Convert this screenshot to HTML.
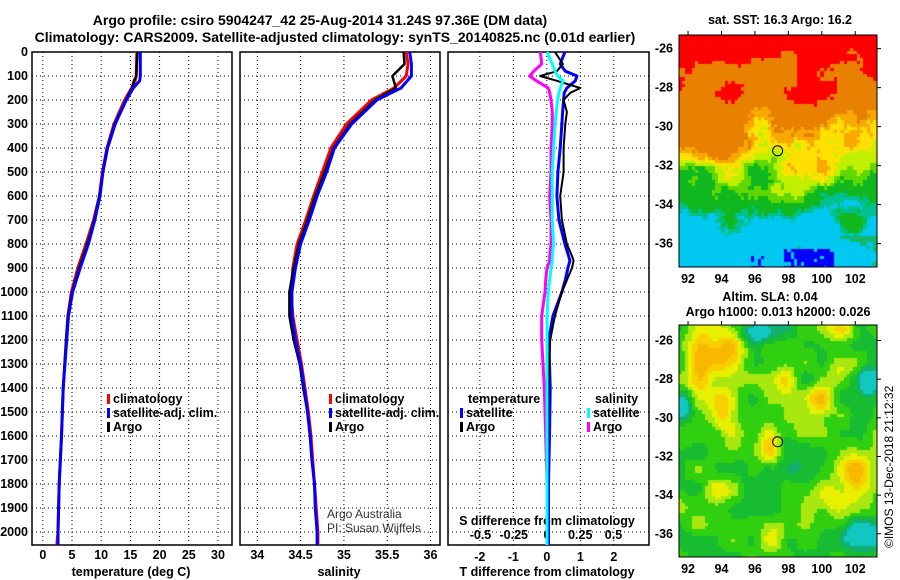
<!DOCTYPE html>
<html><head><meta charset="utf-8"><style>
body{margin:0;background:#fff;width:900px;height:580px;overflow:hidden;position:relative;font-family:"Liberation Sans",sans-serif}
svg{position:absolute;left:0;top:0}
canvas{position:absolute}
text{font-family:"Liberation Sans",sans-serif;font-weight:bold;font-size:12.5px;fill:#000}
</style></head><body>
<canvas id="sst" width="198" height="232" style="left:679px;top:35px"></canvas>
<canvas id="sla" width="198" height="232" style="left:679px;top:325px"></canvas>
<svg id="s" width="900" height="580" xmlns="http://www.w3.org/2000/svg">
<text x="320" y="25" text-anchor="middle" style="font-size:14px">Argo profile: csiro 5904247_42 25-Aug-2014 31.24S 97.36E (DM data)</text>
<text x="335" y="42" text-anchor="middle" style="font-size:14px">Climatology: CARS2009. Satellite-adjusted climatology: synTS_20140825.nc (0.01d earlier)</text>
<text x="780" y="24" text-anchor="middle">sat. SST: 16.3 Argo: 16.2</text>
<text x="770" y="301" text-anchor="middle">Altim. SLA: 0.04</text>
<text x="778" y="316" text-anchor="middle">Argo h1000: 0.013 h2000: 0.026</text>
<text transform="translate(893,548) rotate(-90)" style="font-weight:normal;font-size:12px">©IMOS 13-Dec-2018 21:12:32</text>
<text x="327" y="518" style="font-weight:normal;font-size:12px;fill:#333">Argo Australia</text>
<text x="327" y="532" style="font-weight:normal;font-size:12px;fill:#333">PI: Susan Wijffels</text>
<g id="g"></g>
</svg>
<script>
// ---- data ----
const tDepth=[0,100,120,150,200,300,400,500,600,700,800,900,1000,1100,1200,1400,1600,1800,2000,2054];
const tClim=[16.1,16.0,15.8,15.2,14.0,12.2,11.0,10.2,9.7,8.7,7.4,6.0,4.9,4.3,4.0,3.5,3.2,2.8,2.6,2.4];
const tSat=[16.7,16.7,16.6,15.5,14.3,12.4,11.1,10.3,9.8,8.9,7.8,6.4,5.1,4.4,4.1,3.5,3.2,2.8,2.6,2.6];
const tArgo=[16.2,16.0,15.6,15.3,14.2,12.3,11.0,10.3,9.7,8.8,7.6,6.2,5.0,4.3,4.0,3.5,3.2,2.8,2.6,2.6];
const sDepth=[0,50,100,150,200,300,400,500,600,700,800,900,1000,1100,1200,1300,1400,1500,1600,1700,1800,1900,2000,2054];
const sClim=[35.72,35.74,35.72,35.58,35.32,35.03,34.85,34.75,34.65,34.56,34.46,34.41,34.39,34.41,34.46,34.51,34.55,34.59,34.62,34.64,34.66,34.68,34.70,34.70];
const sSat=[35.76,35.78,35.78,35.66,35.38,35.09,34.89,34.80,34.69,34.60,34.50,34.44,34.40,34.40,34.44,34.50,34.54,34.58,34.61,34.63,34.66,34.67,34.69,34.69];
const sArgo=[35.69,35.70,35.56,35.60,35.36,35.07,34.88,34.78,34.67,34.58,34.48,34.42,34.37,34.37,34.42,34.49,34.53,34.58,34.61,34.63,34.66,34.67,34.69,34.69];
const dDepth=[0,50,80,100,120,150,170,200,250,300,400,500,600,700,800,850,870,900,950,1000,1100,1200,1400,1600,1800,2054];
const dTsat=[0.54,0.40,0.55,0.90,0.85,0.60,0.52,0.50,0.47,0.45,0.40,0.33,0.30,0.36,0.54,0.65,0.69,0.63,0.55,0.45,0.18,0.06,0.10,0.08,0.05,0.05];
const dTargo=[0.24,0.48,0.30,-0.20,0.30,1.00,0.70,0.50,0.60,0.55,0.50,0.50,0.40,0.45,0.60,0.75,0.80,0.75,0.60,0.45,0.24,0.10,0.05,0.02,0.0,0.0];
const dSsat=[0.00,0.04,0.06,0.08,0.12,0.10,0.09,0.08,0.07,0.06,0.05,0.04,0.04,0.04,0.05,0.04,0.04,0.03,0.02,0.01,0.0,0.0,0.0,0.0,0.0,0.0];
const dSargo=[-0.05,-0.04,-0.10,-0.13,-0.08,0.01,0.02,0.03,0.04,0.04,0.03,0.03,0.02,0.03,0.03,0.02,0.02,0.00,-0.01,-0.015,-0.04,-0.04,-0.02,-0.01,0.0,0.0];
const depthTicks=[0,100,200,300,400,500,600,700,800,900,1000,1100,1200,1300,1400,1500,1600,1700,1800,1900,2000];
const tTicks=[0,5,10,15,20,25,30];
const sTicks=[34,34.5,35,35.5,36];
const dTTicks=[-2,-1,0,1,2];
const dSTicks=[-0.5,-0.25,0,0.25,0.5];
const latTicks=[-26,-28,-30,-32,-34,-36];
const lonTicks=[92,94,96,98,100,102];
// ---- scales ----
const Y=d=>52+d*0.24;
const panels=[{x0:32,x1:232,v0:-1.85,v1:32.4},{x0:240,x1:440,v0:33.80,v1:36.11},{x0:448,x1:649,v0:-2.95,v1:3.05}];
const X=(p,v)=>p.x0+(v-p.v0)/(p.v1-p.v0)*(p.x1-p.x0);
const XS=v=>547+v*133;
const g=document.getElementById('g');
const NS='http://www.w3.org/2000/svg';
function mk(tag,at,txt){const e=document.createElementNS(NS,tag);for(const k in at)e.setAttribute(k,at[k]);if(txt!==undefined)e.textContent=txt;g.appendChild(e);return e;}
panels.forEach((p,i)=>{
  const ticks=i==0?tTicks:i==1?sTicks:dTTicks;
  depthTicks.forEach(d=>{const l=mk('line',{x1:p.x0,x2:p.x1,y1:Y(d),y2:Y(d),stroke:'#000','stroke-dasharray':'1 3'});
    
    });
  ticks.forEach(v=>{const l=mk('line',{x1:X(p,v),x2:X(p,v),y1:52,y2:545,stroke:'#000','stroke-dasharray':'1 3'});
    
    
    const t=mk('text',{x:X(p,v),y:i==2?561:559,'text-anchor':'middle'},String(v));
    
    });
  const r=mk('rect',{x:p.x0,y:52,width:p.x1-p.x0,height:493,fill:'none',stroke:'#000','stroke-width':1.5});
  
  
});
depthTicks.forEach(d=>{const t=mk('text',{x:28,y:Y(d)+4,'text-anchor':'end'},d);
  
  });
dSTicks.forEach(v=>{const t=mk('text',{x:XS(v),y:539,'text-anchor':'middle'},String(v));
  
  });
[['temperature (deg C)',131,'x-axis-title-temperature'],['salinity',339,'x-axis-title-salinity'],['T difference from climatology',547,'x-axis-title-tdiff']].forEach(a=>{
  const t=mk('text',{x:a[1],y:576,'text-anchor':'middle'},a[0]);
  
  });
const st=mk('text',{x:547,y:525,'text-anchor':'middle'},'S difference from climatology');


function line(depths,vals,fx,col,w,name){
  const pts=depths.map((d,k)=>fx(vals[k]).toFixed(1)+','+Y(d).toFixed(1)).join(' ');
  const l=mk('polyline',{points:pts,fill:'none',stroke:col,'stroke-width':w,'stroke-linejoin':'round'});
  
  
}
line(tDepth,tClim,v=>X(panels[0],v),'#f00',3,'temperature-climatology-line');
line(tDepth,tArgo,v=>X(panels[0],v),'#000',2.5,'temperature-argo-line');
line(tDepth,tSat,v=>X(panels[0],v),'#00f',3,'temperature-satellite-line');
line(sDepth,sClim,v=>X(panels[1],v),'#f00',3,'salinity-climatology-line');
line(sDepth,sArgo,v=>X(panels[1],v),'#000',2.5,'salinity-argo-line');
line(sDepth,sSat,v=>X(panels[1],v),'#00f',3,'salinity-satellite-line');
line(dDepth,dSargo,XS,'#f0f',3,'s-diff-argo-line');
line(dDepth,dTsat,v=>X(panels[2],v),'#00f',3,'t-diff-satellite-line');
line(dDepth,dTargo,v=>X(panels[2],v),'#000',2,'t-diff-argo-line');
line(dDepth,dSsat,XS,'#0ff',3,'s-diff-satellite-line');
function leg(x,y,col,label,name){
  const r=mk('rect',{x:x,y:y-9,width:3,height:10,fill:col});
  
  
  const t=mk('text',{x:x+6,y:y},label);
  
  
}
[[107,'#f00','climatology'],[107,'#00f','satellite-adj. clim.'],[107,'#000','Argo']].forEach((a,k)=>leg(a[0],403+k*14,a[1],a[2],'legend-temp-'+k));
[[329,'#f00','climatology'],[329,'#00f','satellite-adj. clim.'],[329,'#000','Argo']].forEach((a,k)=>leg(a[0],403+k*14,a[1],a[2],'legend-sal-'+k));
const lt=mk('text',{x:468,y:403},'temperature');
const ls=mk('text',{x:595,y:403},'salinity');
leg(460,417,'#00f','satellite','legend-tdiff-satellite');
leg(460,431,'#000','Argo','legend-tdiff-argo');
leg(587,417,'#0ff','satellite','legend-sdiff-satellite');
leg(587,431,'#f0f','Argo','legend-sdiff-argo');
// maps axes
const LON0=91.46,LON1=103.3,MX0=679,MX1=877;
const MX=v=>MX0+(v-LON0)/(LON1-LON0)*(MX1-MX0);
[[35,267,-25.3,-37.2],[325,557,-25.2,-37.2]].forEach((m,mi)=>{
  const MY=v=>m[0]+(m[2]-v)/(m[2]-m[3])*(m[1]-m[0]);
  latTicks.forEach(v=>{const t=mk('text',{x:673,y:MY(v)+4,'text-anchor':'end'},v);
    
    mk('line',{x1:MX1,x2:MX1+4,y1:MY(v),y2:MY(v),stroke:'#000'});});
  lonTicks.forEach(v=>{const t=mk('text',{x:MX(v),y:m[1]+16,'text-anchor':'middle'},v);
    
    mk('line',{x1:MX(v),x2:MX(v),y1:m[0],y2:m[0]-4,stroke:'#000'});});
  const r=mk('rect',{x:MX0,y:m[0],width:MX1-MX0,height:m[1]-m[0],fill:'none',stroke:'#000'});
  
  const c=mk('circle',{cx:MX(97.36),cy:MY(-31.24),r:5,fill:'none',stroke:'#000'});
  
});
// map textures (image rendering)
function hash(i,j,s){let h=Math.sin(i*12.9898+j*78.233+s*37.719)*43758.5453;return h-Math.floor(h);}
function noise(x,y,s){const i=Math.floor(x),j=Math.floor(y),fx=x-i,fy=y-j;
  const a=hash(i,j,s),b=hash(i+1,j,s),c=hash(i,j+1,s),d=hash(i+1,j+1,s);
  const ux=fx*fx*(3-2*fx),uy=fy*fy*(3-2*fy);return a+(b-a)*ux+(c-a)*uy+(a-b-c+d)*ux*uy;}
(function(){const cv=document.getElementById('sst'),cx=cv.getContext('2d');
 const B=3.3;
 for(let y=0;y<232;y+=B)for(let x=0;x<198;x+=B){
  const lat=-25.3-(y/232)*11.9, lon=91.46+x/198*11.84;
  const n=(noise(x/30+0.3,y/26+0.7,1)-0.5)*3.0+(noise(x/12,y/12,2)-0.5)*1.2+(hash(Math.floor(x/B),Math.floor(y/B),3)-0.5)*0.6;
  let L=lat+n;
  // orange intrusion near top centre (lon 96-98)
  if(lon>95.8&&lon<98.5&&lat>-28)L-=1.6;
  let c;
  if(L>-27.7)c='#ff0000';
  else if(L>-30.2)c='#e88000';
  else if(L>-30.8)c='#f8a800';
  else if(L>-31.5)c='#ffe000';
  else if(L>-32.3)c='#c0f000';
  else if(L>-33.0)c='#60d800';
  else if(L>-34.3)c='#10b820';
  else if(L>-34.9)c='#00c090';
  else c='#00c8f0';
  if(lat<-36.3 && lon>97.6 && lon<100.6 && hash(Math.floor(x/B),Math.floor(y/B),5)>0.15)c='#0000ff';
  if(lat<-36.5 && lon>95.7 && lon<96.5 && hash(Math.floor(x/B),Math.floor(y/B),6)>0.4)c='#0000ff';
  if(lat<-35.5 && lon>101 && L>-35.6)c='#10b870';
  cx.fillStyle=c;cx.fillRect(Math.floor(x),Math.floor(y),Math.ceil(B)+1,Math.ceil(B)+1);}
})();
(function(){const cv=document.getElementById('sla'),cx=cv.getContext('2d');
 const B=3.3;
 const bl=[[42,27,2.8,16,16],[45,85,2.0,9,16],[20,50,1.3,9,28],[160,45,1.6,9,12],[140,75,2.0,9,12],[125,105,1.6,9,9],[175,145,2.3,11,14],[150,175,1.4,13,9],[90,120,1.7,7,14],[160,5,1.4,12,8],[105,55,1.1,6,9],[40,165,0.9,13,9],[95,210,0.9,9,9],
   [80,5,-2.6,14,8],[190,55,-2.6,8,12],[180,210,-3.0,14,10],[2,80,-2.4,6,8],[65,140,-0.8,16,14],[125,140,-0.8,10,20]];
 for(let y=0;y<232;y+=B)for(let x=0;x<198;x+=B){
  let v=1.7+(noise(x/18,y/18,7)-0.5)*1.5;
  bl.forEach(b=>{const d=((x-b[0])/b[3])**2+((y-b[1])/b[4])**2;v+=b[2]*Math.exp(-d/2);});
  let c;
  if(v<0.2)c='#10c8c0';else if(v<0.8)c='#10b070';else if(v<1.5)c='#18bc30';else if(v<2.1)c='#30d010';
  else if(v<2.7)c='#a8e810';else if(v<3.3)c='#e8f000';else if(v<3.9)c='#f8d000';else if(v<4.5)c='#f8b800';else c='#f0a000';
  cx.fillStyle=c;cx.fillRect(Math.floor(x),Math.floor(y),Math.ceil(B)+1,Math.ceil(B)+1);}
})();
</script>
</body></html>
